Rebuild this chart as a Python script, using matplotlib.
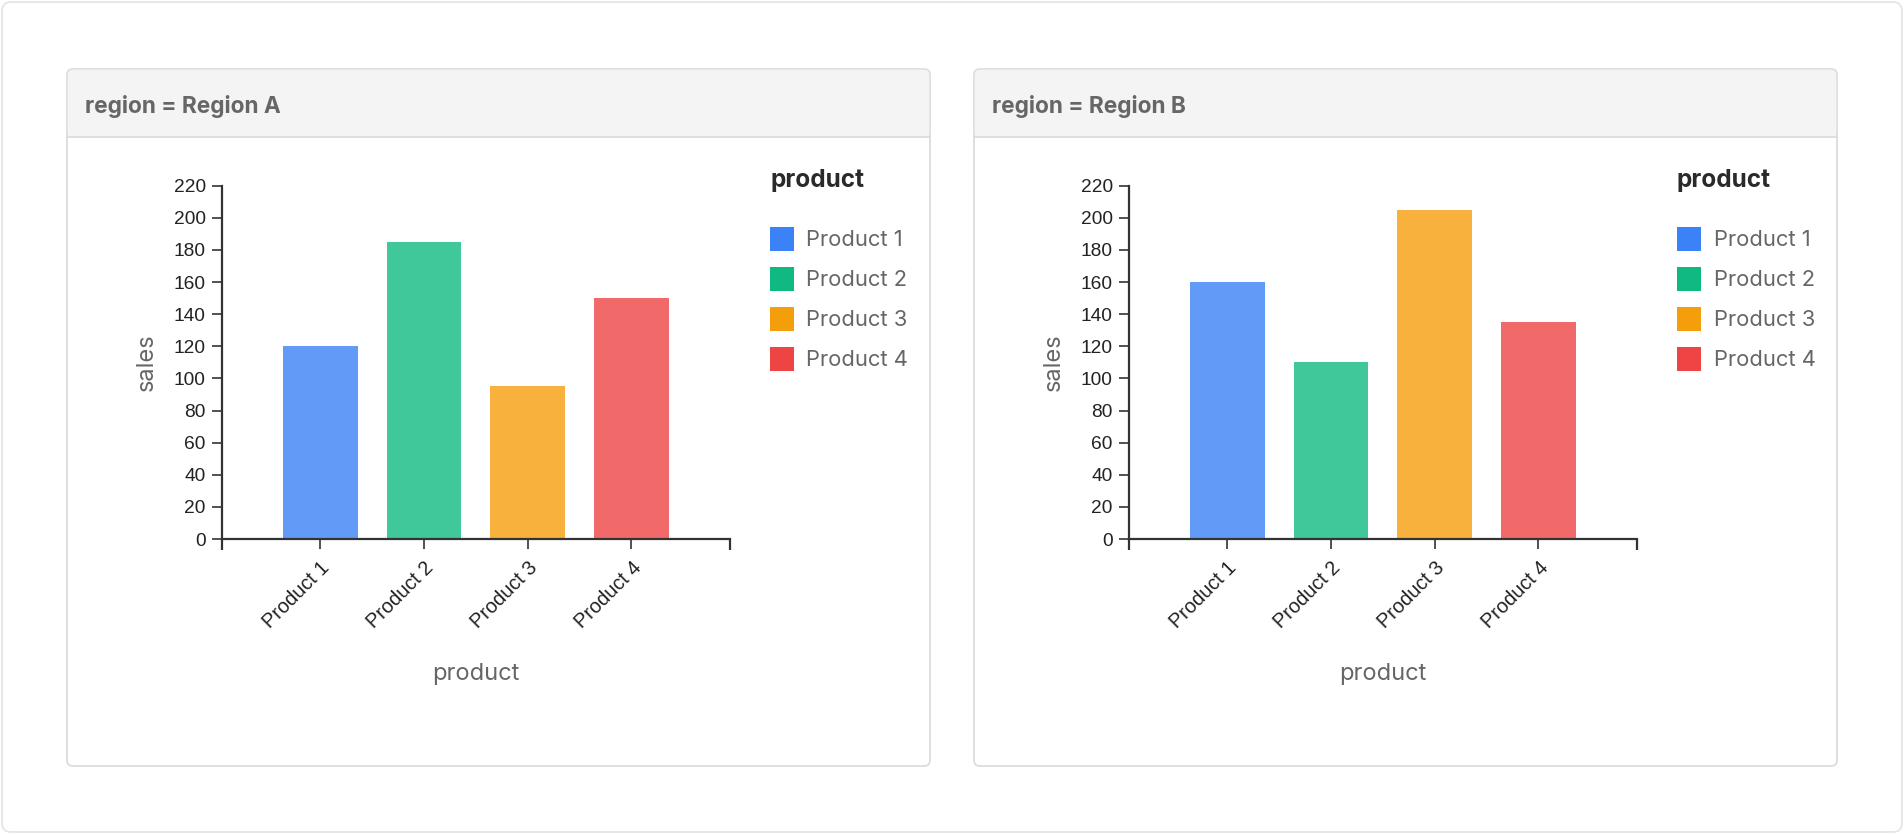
import matplotlib
matplotlib.use("Agg")
import matplotlib.pyplot as plt
from matplotlib.patches import FancyBboxPatch, Rectangle
from matplotlib.lines import Line2D

# data
products = ["Product 1", "Product 2", "Product 3", "Product 4"]
regions = ["Region A", "Region B"]
sales_a = [120, 185, 95, 150]
sales_b = [160, 110, 205, 135]
sales_by_region = [sales_a, sales_b]
y_ticks = list(range(0, 221, 20))

colors = ["#3B82F6", "#10B981", "#F59E0B", "#EF4444"]

W, H = 1904, 834
DPI = 100

fig = plt.figure(figsize=(W / DPI, H / DPI), dpi=DPI)
fig.patch.set_facecolor("white")

# background canvas in pixel coordinates
bg = fig.add_axes([0, 0, 1, 1])
bg.set_xlim(0, W)
bg.set_ylim(H, 0)
bg.axis("off")

bg.add_patch(FancyBboxPatch((2, 2), W - 4, H - 4,
                            boxstyle="round,pad=0,rounding_size=9",
                            facecolor="white", edgecolor="#E3E5EA", linewidth=1.3))

TEXT_FONT = ["Inter", "DejaVu Sans"]
TICK_FONT = ["Liberation Sans", "DejaVu Sans"]


def px_rect(left, top, right, bottom):
    return [left / W, 1 - bottom / H, (right - left) / W, (bottom - top) / H]


panel_dx = 907
for i, region in enumerate(regions):
    ox = i * panel_dx
    # panel card
    px0, py0, px1, py1 = 67 + ox, 69, 930 + ox, 766
    bg.add_patch(FancyBboxPatch((px0, py0), px1 - px0, py1 - py0,
                                boxstyle="round,pad=0,rounding_size=6",
                                facecolor="white", edgecolor="#DCDCDC", linewidth=1.3,
                                zorder=1))
    # header strip
    bg.add_patch(FancyBboxPatch((px0 + 0.7, py0 + 0.7), px1 - px0 - 1.4, 67,
                                boxstyle="round,pad=0,rounding_size=5.5",
                                facecolor="#F4F4F4", edgecolor="none", zorder=2))
    bg.add_patch(Rectangle((px0 + 0.7, py0 + 40), px1 - px0 - 1.4, 28,
                           facecolor="#F4F4F4", edgecolor="none", zorder=2))
    bg.add_line(Line2D([px0, px1], [137, 137], color="#DCDCDC", lw=1.3, zorder=3))
    bg.text(px0 + 18, 106, f"region = {region}", fontsize=16.3, fontweight="bold",
            color="#666666", family=TEXT_FONT, va="center", ha="left", zorder=4)

    # chart axes
    ax = fig.add_axes(px_rect(221.7 + ox, 185.7, 730 + ox, 539))
    values = sales_by_region[i]
    xs = list(range(len(products)))
    ax.bar(xs, values, width=0.72, color=colors, alpha=0.8, zorder=2)
    ax.set_xlim(-0.95, len(products) - 0.05)
    ax.set_ylim(0, 220)
    ax.set_yticks(y_ticks)
    ax.set_xticks(xs)
    ax.set_xticklabels(products, rotation=45, ha="right", va="top",
                       rotation_mode="anchor", family=TICK_FONT, fontsize=14.4, color="#222222")
    for lab in ax.get_yticklabels():
        lab.set_family(TICK_FONT)
        lab.set_fontsize(13.8)
        lab.set_color("#222222")
    for s in ["top", "right"]:
        ax.spines[s].set_visible(False)
    for s in ["left", "bottom"]:
        ax.spines[s].set_color("#333333")
        ax.spines[s].set_linewidth(1.6)
    ax.tick_params(axis="both", length=7.5, width=1.2, color="#333333")
    ax.tick_params(axis="y", pad=4)
    ax.tick_params(axis="x", pad=6)
    ax.set_facecolor("none")

    # outer ticks at both ends of the x domain
    for xe in (-0.95, len(products) - 0.05):
        ax.plot([xe, xe], [0, -0.03], transform=ax.get_xaxis_transform(),
                color="#333333", lw=1.6, clip_on=False, solid_capstyle="butt")

    # axis titles
    bg.text(146.5 + ox, 362, "sales", rotation=90, fontsize=17, color="#666666",
            family=TEXT_FONT, ha="center", va="center")
    bg.text(476 + ox, 674, "product", fontsize=17, color="#666666",
            family=TEXT_FONT, ha="center", va="center")

    # legend
    bg.text(770 + ox, 180, "product", fontsize=17.5, fontweight="bold", color="#2A2A2A",
            family=TEXT_FONT, ha="left", va="center")
    for k, (name, c) in enumerate(zip(products, colors)):
        yy = 238.5 + 40 * k
        bg.add_patch(Rectangle((770 + ox, yy - 12), 24, 24, facecolor=c,
                               edgecolor="none", zorder=3))
        bg.text(806.5 + ox, yy + 1.5, name, fontsize=15.8, color="#666666",
                family=TEXT_FONT, ha="left", va="center")

fig.savefig("out.png", dpi=DPI, facecolor="white")
